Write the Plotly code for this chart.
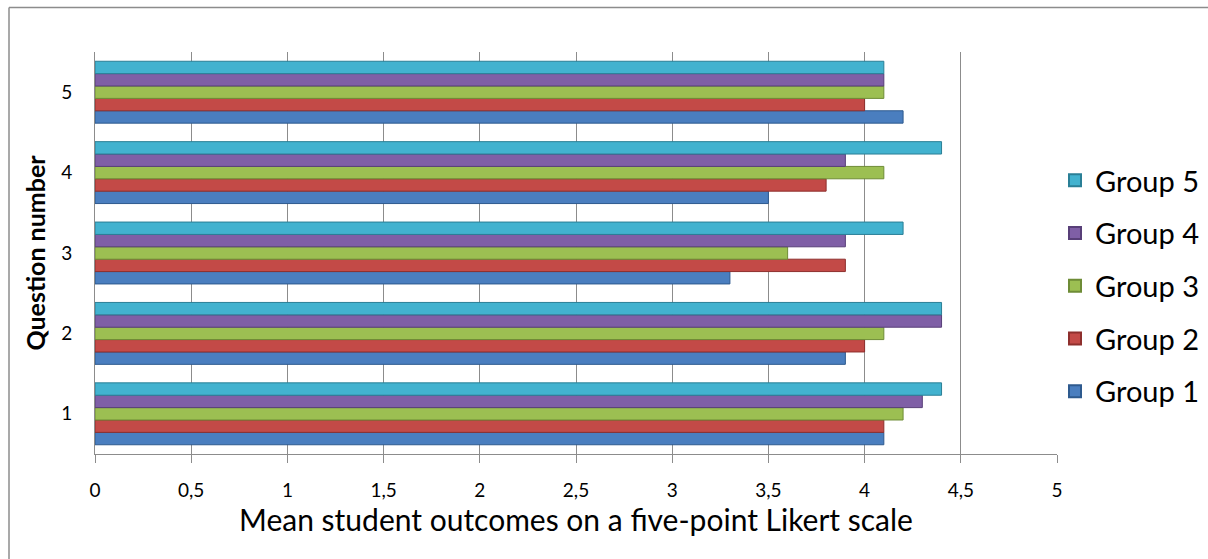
import plotly.graph_objects as go

questions = ["1", "2", "3", "4", "5"]
group1 = [4.1, 3.9, 3.3, 3.5, 4.2]
group2 = [4.1, 4.0, 3.9, 3.8, 4.0]
group3 = [4.2, 4.1, 3.6, 4.1, 4.1]
group4 = [4.3, 4.4, 3.9, 3.9, 4.1]
group5 = [4.4, 4.4, 4.2, 4.4, 4.1]
group_names = ["Group 1", "Group 2", "Group 3", "Group 4", "Group 5"]
x_ticks = [0, 0.5, 1, 1.5, 2, 2.5, 3, 3.5, 4, 4.5, 5]
x_tick_labels = ["0", "0,5", "1", "1,5", "2", "2,5", "3", "3,5", "4", "4,5", "5"]

series = [group1, group2, group3, group4, group5]
fills = ["#4A7EBF", "#C34A47", "#9CBF52", "#7F5FA6", "#42B2CF"]
edges = ["#2E5A8E", "#8E2F2D", "#6E8C36", "#583F78", "#2A7F96"]

fig = go.Figure()
for i, (name, vals) in enumerate(zip(group_names, series)):
    fig.add_trace(go.Bar(
        y=questions, x=vals, name=name, orientation="h",
        marker=dict(color=fills[i], line=dict(color=edges[i], width=1)),
        legendgroup=name, legendrank=100 - i,
    ))

font_family = "Lato, 'Open Sans', sans-serif"
L, R, T, B = 95, 151, 52, 105
W, H = 1208, 559
pw, ph = W - L - R, H - T - B

fig.update_layout(
    width=W, height=H,
    margin=dict(l=L, r=R, t=T, b=B, autoexpand=False),
    paper_bgcolor="white", plot_bgcolor="white",
    barmode="group", bargap=0.23, bargroupgap=0,
    font=dict(family=font_family, color="#000000"),
    legend=dict(
        x=(1055 - L) / pw, y=(454 - 155) / ph, xanchor="left", yanchor="top",
        traceorder="grouped", tracegroupgap=12,
        font=dict(size=29, family=font_family),
        itemsizing="constant", bgcolor="rgba(0,0,0,0)",
    ),
    xaxis=dict(
        range=[0, 5], tickvals=x_ticks, ticktext=x_tick_labels,
        showgrid=True, gridcolor="#8C8C8C", gridwidth=1,
        zeroline=False, showline=True, linecolor="#8C8C8C", linewidth=1,
        ticks="outside", ticklen=8, tickcolor="#8C8C8C",
        ticklabelstandoff=11,
        tickfont=dict(size=19, family=font_family),
        title=dict(text="Mean student outcomes on a five-point Likert scale",
                   font=dict(size=30, family=font_family), standoff=1),
    ),
    yaxis=dict(
        showgrid=False, showline=True, linecolor="#8C8C8C", linewidth=1,
        ticks="", tickfont=dict(size=19, family=font_family),
        ticklabelstandoff=18,
        title=dict(text="<b>Question number</b>",
                   font=dict(size=25, family=font_family), standoff=8),
    ),
    shapes=[
        dict(type="line", xref="paper", yref="paper",
             x0=(9 - L) / pw, x1=(1220 - L) / pw,
             y0=(454 - 7.5) / ph, y1=(454 - 7.5) / ph,
             line=dict(color="#8C8C8C", width=1.5)),
        dict(type="line", xref="paper", yref="paper",
             x0=(9 - L) / pw, x1=(9 - L) / pw,
             y0=(454 - 7.5) / ph, y1=(454 - 575) / ph,
             line=dict(color="#8C8C8C", width=1.5)),
    ],
)

fig.write_html(
    "out.html",
    config={"displayModeBar": False},
    post_script="document.body.style.margin='0';document.body.style.overflow='hidden';",
)
